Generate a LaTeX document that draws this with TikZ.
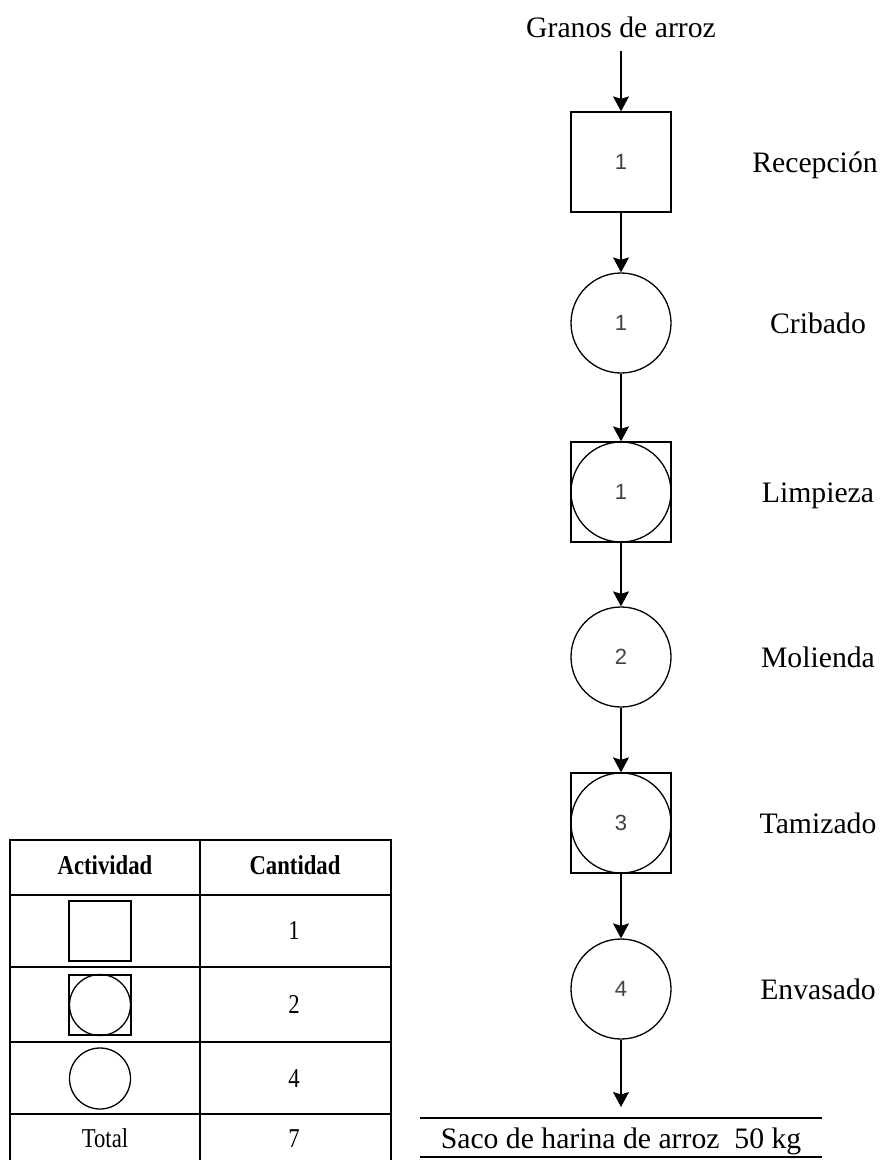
\documentclass[tikz,border=0pt]{standalone}
\usepackage{fontspec}
\setmainfont{Liberation Serif}
\newfontfamily\numfont{Liberation Sans}
\usetikzlibrary{arrows.meta}
% table text is set slightly tall
\newcommand{\tallcell}[1]{\scalebox{1}[1.2]{#1}}
\begin{document}
\begin{tikzpicture}[x=1pt,y=-1pt,line width=1.3pt,
  flow/.style={-{Stealth[length=15pt,width=16pt,inset=2.5pt]}},
  opbox/.style={draw,rectangle,minimum width=100pt,minimum height=100pt,inner sep=0pt,
    font=\numfont\fontsize{22}{26}\selectfont,text=black!75},
  opcirc/.style={draw,circle,minimum size=100pt,inner sep=0pt,
    font=\numfont\fontsize{22}{26}\selectfont,text=black!75},
  steplabel/.style={anchor=base,inner sep=0pt,font=\fontsize{29.7}{34}\selectfont},
  cell/.style={anchor=base,inner sep=0pt,font=\fontsize{22.7}{26}\selectfont},
  iconbox/.style={draw,rectangle,minimum width=62pt,minimum height=60pt,inner sep=0pt},
  iconcirc/.style={draw,circle,minimum size=61pt,inner sep=0pt}]
\useasboundingbox (0,0) rectangle (888,1160);

% ---- process column ----
\node[steplabel] (granos) at (621,37) {Granos de arroz};
\node[opbox]  (rec) at (621,162) {1};
\node[opcirc] (cri) at (621,323) {1};
\node[opbox]  (limq) at (621,492) {};
\node[opcirc] (lim) at (621,492) {1};
\node[opcirc] (mol) at (621,657) {2};
\node[opbox]  (tamq) at (621,823) {};
\node[opcirc] (tam) at (621,823) {3};
\node[opcirc] (env) at (621,989) {4};
\coordinate (out) at (621,1107);

% ---- step names ----
\node[steplabel] (lrec) at (815,172) {Recepción};
\node[steplabel] (lcri) at (818,333) {Cribado};
\node[steplabel] (llim) at (818,502) {Limpieza};
\node[steplabel] (lmol) at (818,667) {Molienda};
\node[steplabel] (ltam) at (818,833) {Tamizado};
\node[steplabel] (lenv) at (818,999) {Envasado};

% ---- flow arrows ----
\draw[flow,shorten <=13pt] (granos.south) -- (rec.north);
\draw[flow] (rec.south) -- (cri.north);
\draw[flow] (cri.south) -- (limq.north);
\draw[flow] (limq.south) -- (mol.north);
\draw[flow] (mol.south) -- (tamq.north);
\draw[flow] (tamq.south) -- (env.north);
\draw[flow] (env.south) -- (out);

% ---- product ----
\node[steplabel] (saco) at (621,1148) {Saco de harina de arroz\ \ 50 kg};
\draw (420,1118) -- (822,1118);
\draw (420,1157) -- (822,1157);

% ---- summary table ----
\draw (10,1161) -- (10,840) -- (391,840) -- (391,1161);
\draw (200,840) -- (200,1161);
\foreach \yy in {895,967,1042,1114} \draw (10,\yy) -- (391,\yy);

\node[cell] (hact) at (105,874) {\tallcell{\bfseries Actividad}};
\node[cell] (hcan) at (295,874) {\tallcell{\bfseries Cantidad}};

\node[iconbox] (ic1) at (100,931) {};
\node[iconbox] (ic2q) at (100,1005) {};
\node[iconcirc] (ic2) at (100,1005) {};
\node[iconcirc] (ic3) at (100,1078.5) {};

\node[cell] (n1) at (294,939) {\tallcell{1}};
\node[cell] (n2) at (294,1013) {\tallcell{2}};
\node[cell] (n3) at (294,1087) {\tallcell{4}};
\node[cell] (tot) at (105,1147) {\tallcell{Total}};
\node[cell] (n4) at (294,1147) {\tallcell{7}};
\end{tikzpicture}
\end{document}
